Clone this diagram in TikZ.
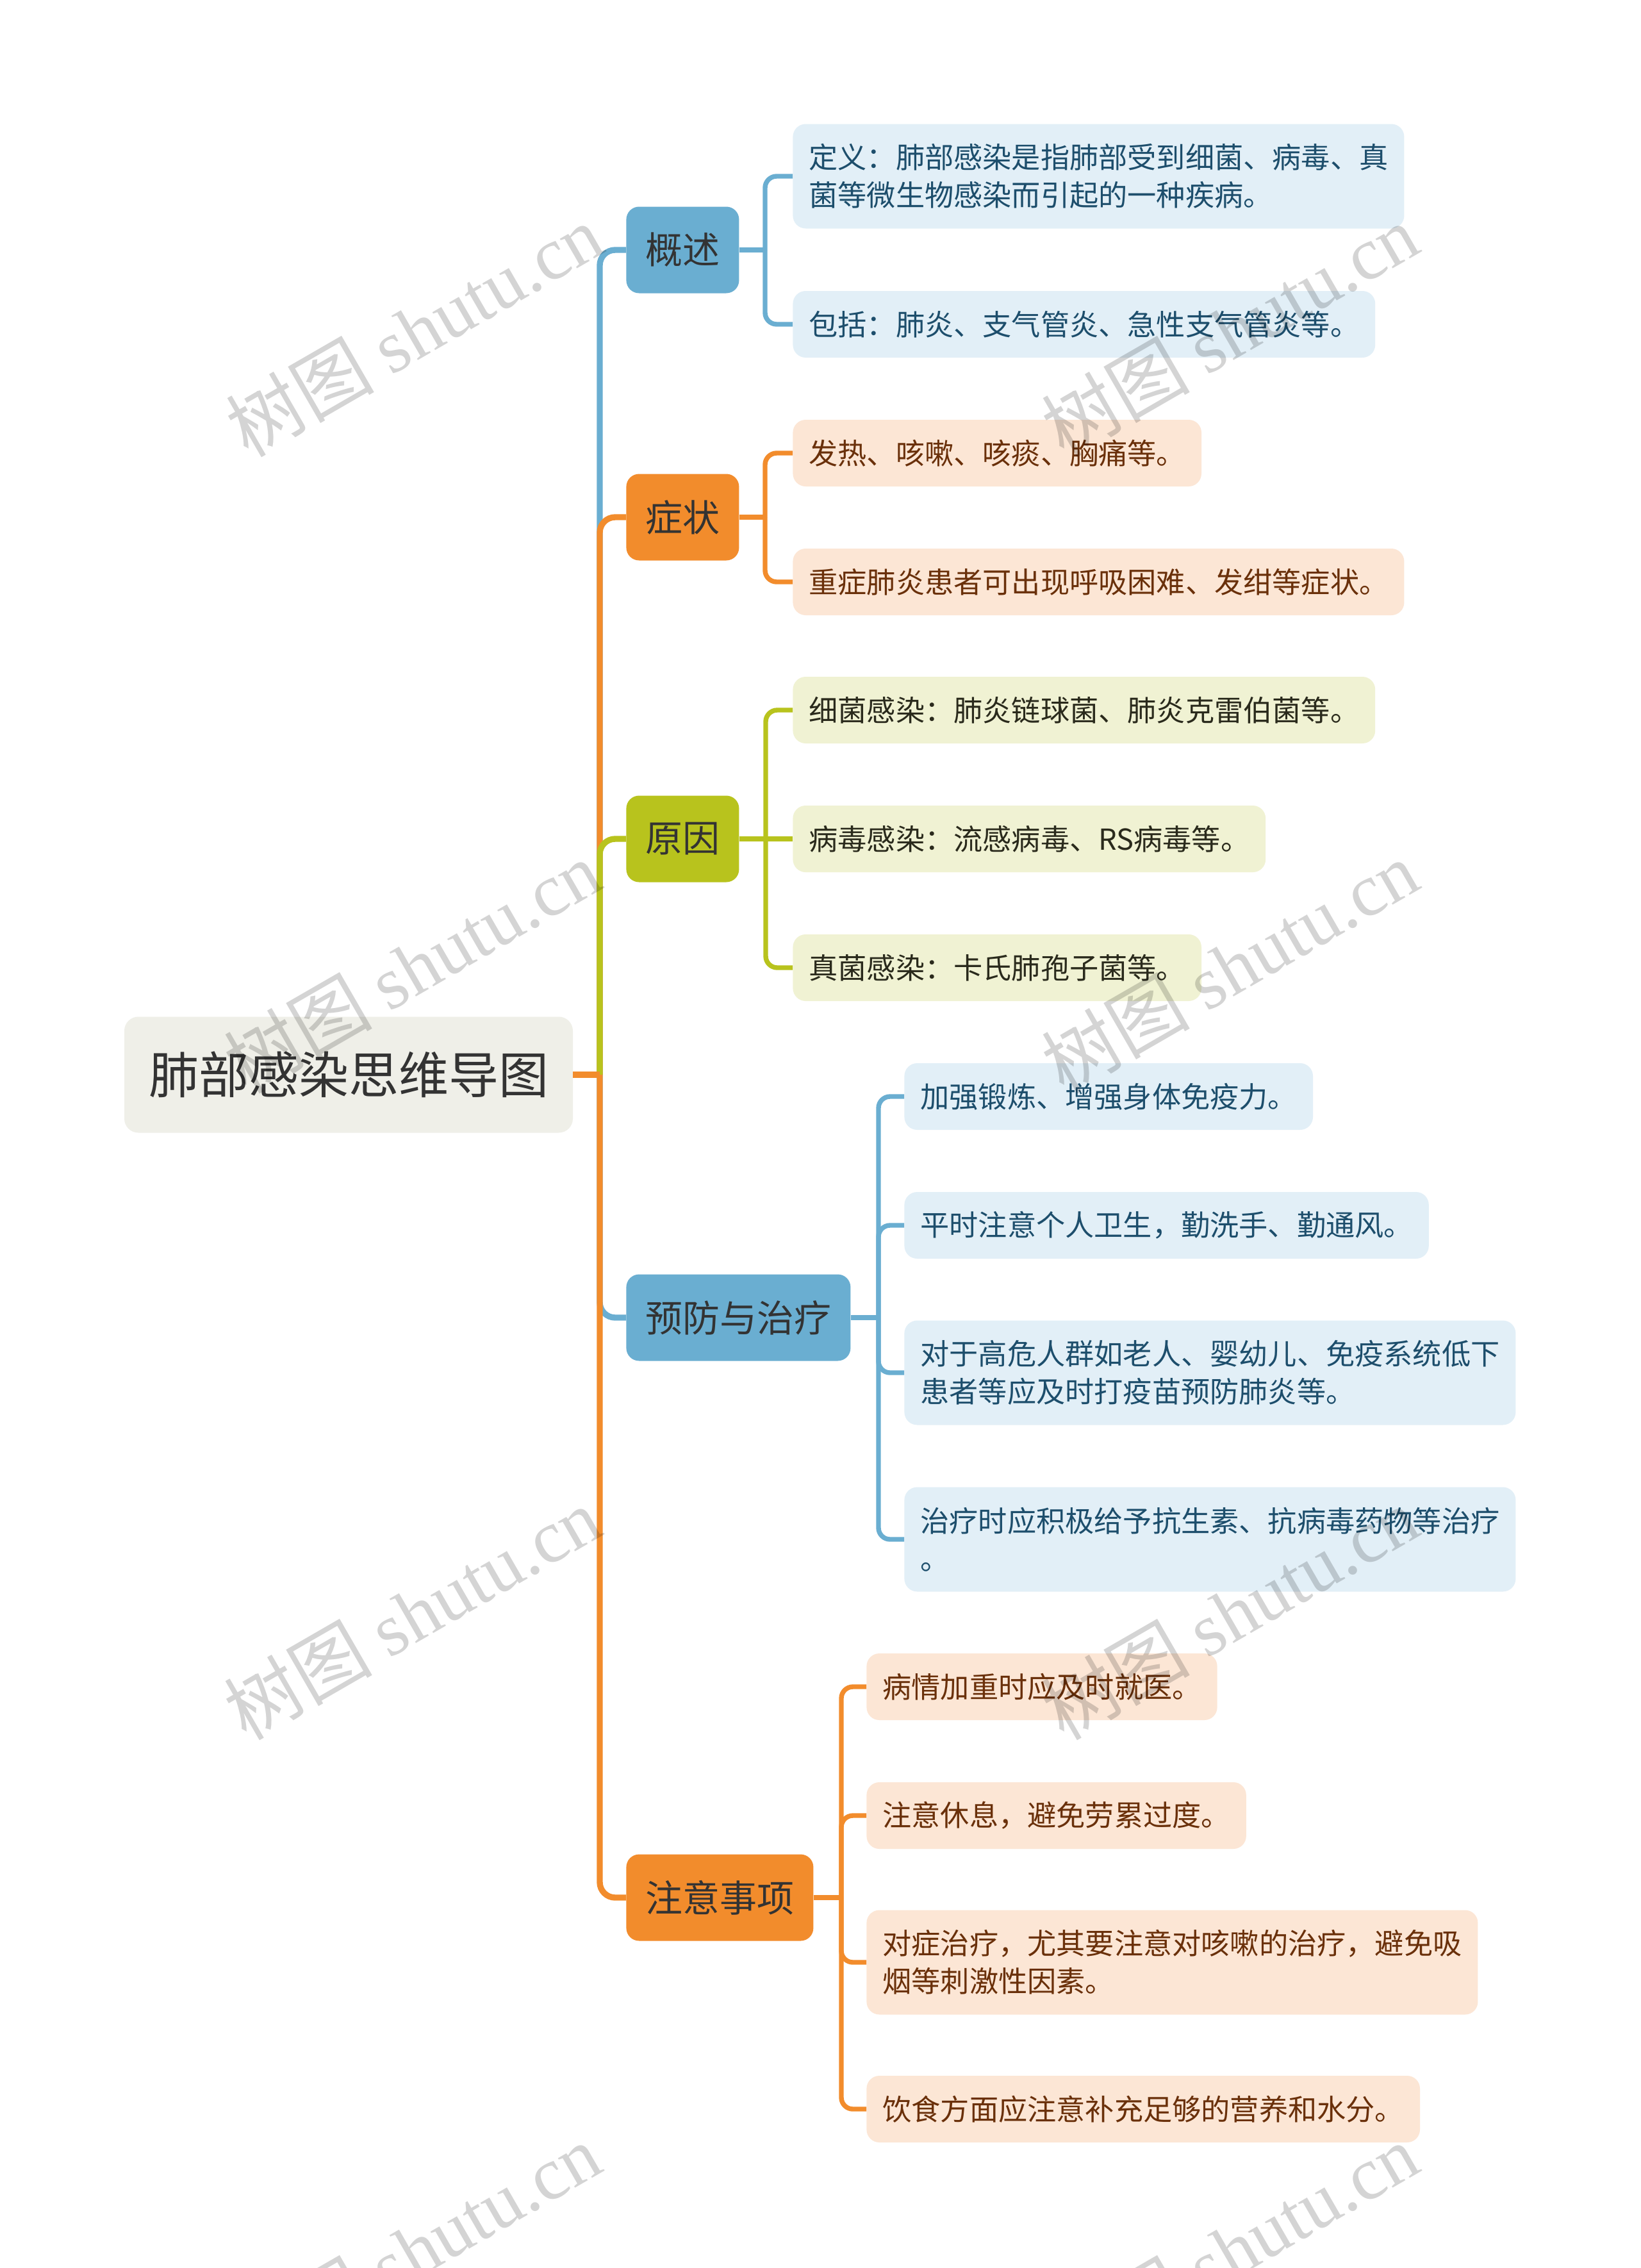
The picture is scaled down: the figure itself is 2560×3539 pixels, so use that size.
\documentclass[tikz,border=0pt]{standalone}
\usepackage{fontspec}
\setmainfont{Noto Sans CJK SC}
\newfontfamily\wmserif{Liberation Serif}
\definecolor{cblue}{HTML}{6AAED1}
\definecolor{corange}{HTML}{F28C2C}
\definecolor{cgreen}{HTML}{B8C31D}
\definecolor{lblue}{HTML}{E2EFF7}
\definecolor{lorange}{HTML}{FCE6D5}
\definecolor{lgreen}{HTML}{F0F2D3}
\definecolor{tblue}{HTML}{1D4E6C}
\definecolor{torange}{HTML}{6A300A}
\definecolor{tgreen}{HTML}{2A2A1C}
\definecolor{rootfill}{HTML}{EFEFE8}
\definecolor{tdark}{HTML}{333333}
\tikzset{
  rootbox/.style={rounded corners=11pt, fill=rootfill, text=tdark,
    font=\fontsize{39}{46}\selectfont, minimum width=350pt, minimum height=90.5pt, inner sep=0pt},
  mainbox/.style={rounded corners=10pt, text=tdark, font=\fontsize{29}{34}\selectfont,
    minimum height=67.5pt, inner xsep=15pt, inner ysep=0pt, anchor=west},
  leafbox/.style={rounded corners=10pt, font=\fontsize{22.6}{29.4}\selectfont,
    inner xsep=12.5pt, inner ysep=0pt, anchor=west, align=left, minimum height=52pt},
  leaftwo/.style={leafbox, minimum height=81.5pt},
  bluel/.style={fill=lblue, text=tblue},
  orangel/.style={fill=lorange, text=torange},
  greenl/.style={fill=lgreen, text=tgreen},
  mainline/.style={line width=4.7pt, rounded corners=12pt},
  subline/.style={line width=3.7pt, rounded corners=9pt},
  wmark/.style={rotate=30, text=black, text opacity=0.17, font=\fontsize{58}{58}\selectfont, inner sep=0pt}
}
\begin{document}
\begin{tikzpicture}[x=0.5pt,y=-0.5pt]
\useasboundingbox (0,0) rectangle (2560,3539);
\fill[white] (0,0) rectangle (2560,3539);

% root and main branches
\node[rootbox] (root) at (544,1677) {肺部感染思维导图};
\node[mainbox, fill=cblue] (gs) at (977,390) {概述};
\node[mainbox, fill=corange] (zz) at (977,807) {症状};
\node[mainbox, fill=cgreen] (yy) at (977,1309) {原因};
\node[mainbox, fill=cblue] (pf) at (977,2056) {预防与治疗};
\node[mainbox, fill=corange] (zy) at (977,2961) {注意事项};

% leaves
\node[leaftwo, bluel] (gs1) at (1237,275) {定义：肺部感染是指肺部受到细菌、病毒、真\\菌等微生物感染而引起的一种疾病。};
\node[leafbox, bluel] (gs2) at (1237,506) {包括：肺炎、支气管炎、急性支气管炎等。};
\node[leafbox, orangel] (zz1) at (1237,707) {发热、咳嗽、咳痰、胸痛等。};
\node[leafbox, orangel] (zz2) at (1237,908) {重症肺炎患者可出现呼吸困难、发绀等症状。};
\node[leafbox, greenl] (yy1) at (1237,1108) {细菌感染：肺炎链球菌、肺炎克雷伯菌等。};
\node[leafbox, greenl] (yy2) at (1237,1309) {病毒感染：流感病毒、RS病毒等。};
\node[leafbox, greenl] (yy3) at (1237,1510) {真菌感染：卡氏肺孢子菌等。};
\node[leafbox, bluel] (pf1) at (1411,1711) {加强锻炼、增强身体免疫力。};
\node[leafbox, bluel] (pf2) at (1411,1912) {平时注意个人卫生，勤洗手、勤通风。};
\node[leaftwo, bluel] (pf3) at (1411,2142) {对于高危人群如老人、婴幼儿、免疫系统低下\\患者等应及时打疫苗预防肺炎等。};
\node[leaftwo, bluel] (pf4) at (1411,2402) {治疗时应积极给予抗生素、抗病毒药物等治疗\\。};
\node[leafbox, orangel] (zy1) at (1352,2632) {病情加重时应及时就医。};
\node[leafbox, orangel] (zy2) at (1352,2833) {注意休息，避免劳累过度。};
\node[leaftwo, orangel] (zy3) at (1352,3062) {对症治疗，尤其要注意对咳嗽的治疗，避免吸\\烟等刺激性因素。};
\node[leafbox, orangel] (zy4) at (1352,3291) {饮食方面应注意补充足够的营养和水分。};

% junction and bus points
\coordinate (J) at (936,1677);
\coordinate (gsB) at (1194,390);
\coordinate (zzB) at (1194,807);
\coordinate (yyB) at (1195,1309);
\coordinate (pfB) at (1371,2056);
\coordinate (zyB) at (1313,2961);

% main connectors
\draw[mainline, cblue] (J) |- (gs.west);
\draw[mainline, corange] (J) |- (zz.west);
\draw[mainline, cgreen] (J) |- (yy.west);
\draw[mainline, cblue] (J) |- (pf.west);
\draw[mainline, corange] (J) |- (zy.west);
\draw[mainline, corange] (root.east) -- (J);

% sub connectors
\draw[subline, cblue] (gs.east) -- (gsB);
\draw[subline, cblue] (gsB) |- (gs1.west);
\draw[subline, cblue] (gsB) |- (gs2.west);

\draw[subline, corange] (zz.east) -- (zzB);
\draw[subline, corange] (zzB) |- (zz1.west);
\draw[subline, corange] (zzB) |- (zz2.west);

\draw[subline, cgreen] (yy.east) -- (yyB);
\draw[subline, cgreen] (yyB) |- (yy1.west);
\draw[subline, cgreen] (yyB) -- (yy2.west);
\draw[subline, cgreen] (yyB) |- (yy3.west);

\draw[subline, cblue] (pf.east) -- (pfB);
\draw[subline, cblue] (pfB) |- (pf1.west);
\draw[subline, cblue] (pfB) |- (pf2.west);
\draw[subline, cblue] (pfB) |- (pf3.west);
\draw[subline, cblue] (pfB) |- (pf4.west);

\draw[subline, corange] (zy.east) -- (zyB);
\draw[subline, corange] (zyB) |- (zy1.west);
\draw[subline, corange] (zyB) |- (zy2.west);
\draw[subline, corange] (zyB) |- (zy3.west);
\draw[subline, corange] (zyB) |- (zy4.west);

% watermarks
\foreach \i/\wx/\wy in {1/646/515, 2/1919/515, 3/643/1508, 4/1919/1508, 5/643/2517, 6/1919/2517, 7/643/3510, 8/1919/3510}
  \node[wmark] (w\i) at (\wx,\wy) {树图 {\wmserif shutu.cn}};
\end{tikzpicture}
\end{document}
